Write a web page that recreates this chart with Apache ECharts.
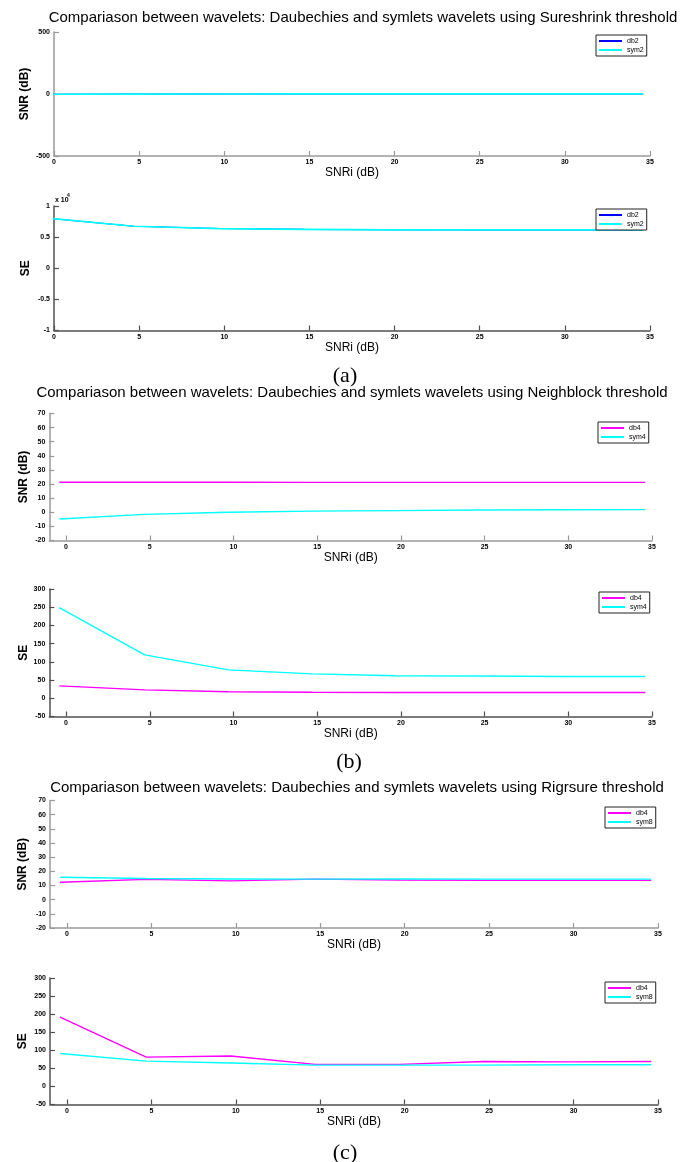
<!DOCTYPE html>
<html>
<head>
<meta charset="utf-8">
<script src="https://cdn.jsdelivr.net/npm/echarts@6/dist/echarts.min.js"></script>
<style>
  html, body { margin: 0; padding: 0; background: #fff; }
  #chart { width: 681px; height: 1162px; }
</style>
</head>
<body>
<div id="chart"></div>
<script>
// Input SNR (dB) at which each denoising run was evaluated
const snri = [-0.4, 4.7, 9.7, 14.7, 19.7, 24.7, 29.7, 34.6];
const xTicks = [0, 5, 10, 15, 20, 25, 30, 35];

// (a) Sureshrink threshold
const snrDb2Sure = [-2, -1, 0, 0.5, 0.8, 1, 1, 1];
const snrSym2Sure = [-2, -1, 0, 0.5, 0.8, 1, 1, 1];
const seDb2Sure = [8050, 6750, 6380, 6250, 6180, 6160, 6150, 6150];
const seSym2Sure = [8050, 6750, 6380, 6250, 6180, 6160, 6150, 6150];

// (b) Neighblock threshold
const snrDb4Neigh = [21.3, 21.3, 21.3, 21.2, 21.2, 21.2, 21.2, 21.2];
const snrSym4Neigh = [-4.8, -1.5, 0, 0.8, 1.2, 1.6, 1.8, 1.9];
const seDb4Neigh = [34, 23, 18, 16.5, 16, 16, 16, 16];
const seSym4Neigh = [249, 119, 78, 67, 62, 61, 60, 60];

// (c) Rigrsure threshold
const snrDb4Rig = [12.3, 14.3, 13.3, 14.5, 13.9, 13.6, 13.6, 13.6];
const snrSym8Rig = [15.8, 14.9, 14.6, 14.5, 14.6, 14.5, 14.5, 14.5];
const seDb4Rig = [192, 81, 84, 61, 61, 69, 68, 69];
const seSym8Rig = [91, 70, 65, 59, 59, 59, 60, 60];

const titles = [
  'Compariason between wavelets: Daubechies and symlets wavelets using Sureshrink threshold',
  'Compariason between wavelets: Daubechies and symlets wavelets using Neighblock threshold',
  'Compariason between wavelets: Daubechies and symlets wavelets using Rigrsure threshold'
];
const captions = ['(a)', '(b)', '(c)'];

const FONT = '"Liberation Sans", Arial, Helvetica, sans-serif';
const BLUE = '#0000ff', CYAN = '#00ffff', MAGENTA = '#ff00ff';
const LIGHT_AXIS = '#9a9a9a', DARK_AXIS = '#505050';

const grids = [
  { left: 54, top: 32, width: 596, height: 124 },
  { left: 54, top: 206, width: 596, height: 124.5 },
  { left: 49.3, top: 413.5, width: 602.7, height: 127 },
  { left: 49.3, top: 589, width: 602.7, height: 127.5 },
  { left: 50, top: 800.5, width: 608, height: 127.5 },
  { left: 50, top: 978, width: 608, height: 126.5 }
];

function xAxisFor(i, min, color) {
  return {
    type: 'value', gridIndex: i, min: min, max: 35,
    name: 'SNRi (dB)', nameLocation: 'middle', nameGap: 11, nameMoveOverlap: false,
    nameTextStyle: { fontFamily: FONT, fontSize: 12, color: '#000' },
    axisLine: { onZero: false, lineStyle: { color: color, width: 1.5 } },
    axisTick: { inside: true, length: 5, customValues: xTicks, lineStyle: { color: color, width: 1.2 } },
    axisLabel: { customValues: xTicks, fontFamily: FONT, fontSize: 7, fontWeight: 'bold', color: '#000', margin: 3 },
    splitLine: { show: false }
  };
}

function yAxisFor(i, name, min, max, interval, color, gap, fmt) {
  return {
    type: 'value', gridIndex: i, min: min, max: max, interval: interval,
    name: name, nameLocation: 'middle', nameGap: gap, nameRotate: 90, nameMoveOverlap: false,
    nameTextStyle: { fontFamily: FONT, fontSize: 12, fontWeight: 'bold', color: '#000' },
    axisLine: { show: true, onZero: false, lineStyle: { color: color, width: 1.5 } },
    axisTick: { show: true, inside: true, length: 5, lineStyle: { color: color, width: 1.2 } },
    axisLabel: { fontFamily: FONT, fontSize: 7, fontWeight: 'bold', color: '#000', margin: 4, formatter: fmt },
    splitLine: { show: false }
  };
}

function lineSeries(name, vals, i, color, width) {
  return {
    type: 'line', name: name, xAxisIndex: i, yAxisIndex: i,
    data: snri.map((x, k) => [x, vals[k]]),
    showSymbol: false, symbol: 'none', clip: true, animation: false,
    lineStyle: { color: color, width: width || 1.4 }, itemStyle: { color: color }
  };
}

function legendFor(left, top, names) {
  return {
    left: left, top: top, orient: 'vertical', data: names,
    icon: 'rect', itemWidth: 23, itemHeight: 2, itemGap: 1,
    padding: [2, 3, 2, 3], borderColor: '#222', borderWidth: 1, backgroundColor: '#fff',
    selectedMode: false,
    textStyle: { fontFamily: FONT, fontSize: 7, lineHeight: 8, color: '#000' }
  };
}

const graphics = [
  { x: 363, y: 18, text: titles[0] },
  { x: 352, y: 393, text: titles[1] },
  { x: 357, y: 788, text: titles[2] }
].map(t => ({
  type: 'text', x: t.x, y: t.y,
  style: { text: t.text, fontFamily: FONT, fontSize: 15, fill: '#000', align: 'center', verticalAlign: 'middle' }
})).concat([
  { x: 345, y: 376, text: captions[0] },
  { x: 349, y: 762, text: captions[1] },
  { x: 345, y: 1153, text: captions[2] }
].map(t => ({
  type: 'text', x: t.x, y: t.y,
  style: { text: t.text, fontFamily: '"Liberation Serif", "Times New Roman", serif', fontSize: 22, fill: '#000', align: 'center', verticalAlign: 'middle' }
}))).concat([
  { type: 'text', x: 55, y: 200, style: { text: 'x 10', fontFamily: FONT, fontSize: 7, fontWeight: 'bold', fill: '#000', align: 'left', verticalAlign: 'middle' } },
  { type: 'text', x: 67, y: 196, style: { text: '4', fontFamily: FONT, fontSize: 5, fontWeight: 'bold', fill: '#000', align: 'left', verticalAlign: 'middle' } }
]);

const option = {
  backgroundColor: '#fff',
  animation: false,
  grid: grids,
  xAxis: [
    xAxisFor(0, 0, LIGHT_AXIS),
    xAxisFor(1, 0, DARK_AXIS),
    xAxisFor(2, -1, LIGHT_AXIS),
    xAxisFor(3, -1, DARK_AXIS),
    xAxisFor(4, -1, LIGHT_AXIS),
    xAxisFor(5, -1, DARK_AXIS)
  ],
  yAxis: [
    yAxisFor(0, 'SNR (dB)', -500, 500, 500, LIGHT_AXIS, 23),
    yAxisFor(1, 'SE', -10000, 10000, 5000, DARK_AXIS, 22, v => String(v / 10000)),
    yAxisFor(2, 'SNR (dB)', -20, 70, 10, LIGHT_AXIS, 20),
    yAxisFor(3, 'SE', -50, 300, 50, DARK_AXIS, 20),
    yAxisFor(4, 'SNR (dB)', -20, 70, 10, LIGHT_AXIS, 21),
    yAxisFor(5, 'SE', -50, 300, 50, DARK_AXIS, 21)
  ],
  legend: [
    legendFor(596, 35, ['db2', 'sym2']),
    legendFor(596, 209, ['db2', 'sym2']),
    legendFor(598, 422, ['db4', 'sym4']),
    legendFor(599, 592, ['db4', 'sym4']),
    legendFor(605, 807, ['db4', 'sym8']),
    legendFor(605, 982, ['db4', 'sym8'])
  ],
  series: [
    lineSeries('db2', snrDb2Sure, 0, BLUE, 1.1),
    lineSeries('sym2', snrSym2Sure, 0, CYAN, 1.7),
    lineSeries('db2', seDb2Sure, 1, BLUE, 1.1),
    lineSeries('sym2', seSym2Sure, 1, CYAN, 1.7),
    lineSeries('db4', snrDb4Neigh, 2, MAGENTA),
    lineSeries('sym4', snrSym4Neigh, 2, CYAN),
    lineSeries('db4', seDb4Neigh, 3, MAGENTA),
    lineSeries('sym4', seSym4Neigh, 3, CYAN),
    lineSeries('db4', snrDb4Rig, 4, MAGENTA),
    lineSeries('sym8', snrSym8Rig, 4, CYAN),
    lineSeries('db4', seDb4Rig, 5, MAGENTA),
    lineSeries('sym8', seSym8Rig, 5, CYAN)
  ],
  graphic: graphics
};

const chart = echarts.init(document.getElementById('chart'), null, { renderer: 'canvas' });
chart.setOption(option);
</script>
</body>
</html>
